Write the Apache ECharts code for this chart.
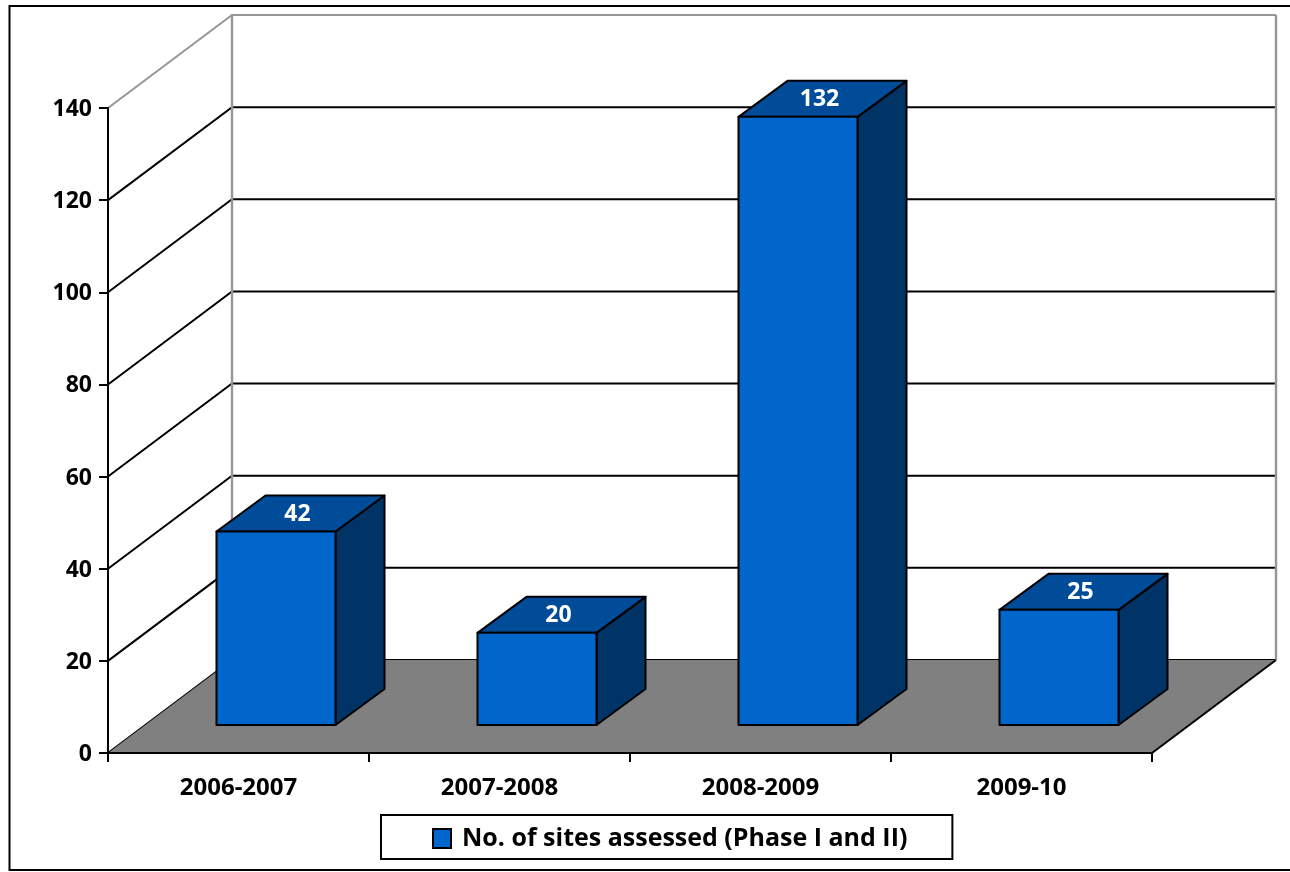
<!DOCTYPE html>
<html>
<head>
<meta charset="utf-8">
<style>html,body{margin:0;padding:0;background:#fff}#chart{width:1290px;height:872px}</style>
<script src="https://cdn.jsdelivr.net/npm/echarts@6/dist/echarts.min.js"></script>
</head>
<body>
<div id="chart"></div>
<script>
const categories = ['2006-2007', '2007-2008', '2008-2009', '2009-10'];
const sitesAssessed = [42, 20, 132, 25];
const valueTicks = [0, 20, 40, 60, 80, 100, 120, 140];
const seriesName = 'No. of sites assessed (Phase I and II)';

// Oblique projection used to fake depth on a flat cartesian grid
const wallDepth = { dx: 124, dy: 93 };
const barFront = { dx: 37.5, dy: 28 };
const barDepth = { dx: 49, dy: 36 };
const barWidthRatio = 0.456;

const colors = { front: '#0066CC', top: '#004C99', side: '#003366', floor: '#808080', wall: '#969696' };
const fontFamily = '"Open Sans", sans-serif';

const chart = echarts.init(document.getElementById('chart'), null, { renderer: 'canvas' });

function renderGridLine(params, api) {
  const box = params.coordSys;
  const value = api.value(1);
  const y = api.coord([0, value])[1];
  const isTop = value === valueTicks[valueTicks.length - 1];
  return {
    type: 'polyline',
    shape: { points: [
      [box.x, y],
      [box.x + wallDepth.dx, y - wallDepth.dy],
      [box.x + box.width + wallDepth.dx, y - wallDepth.dy]
    ] },
    style: { fill: null, stroke: isTop ? colors.wall : '#000', lineWidth: 2 }
  };
}

function renderFloorAndEdges(params, api) {
  const box = params.coordSys;
  const base = box.y + box.height;
  const backLeft = box.x + wallDepth.dx;
  const backRight = box.x + box.width + wallDepth.dx;
  const backBase = base - wallDepth.dy;
  const backTop = box.y - wallDepth.dy;
  const edge = { fill: null, stroke: colors.wall, lineWidth: 2.4 };
  return {
    type: 'group',
    children: [
      { type: 'line', shape: { x1: backLeft, y1: backTop, x2: backLeft, y2: backBase }, style: edge },
      { type: 'line', shape: { x1: backRight, y1: backTop, x2: backRight, y2: backBase }, style: edge },
      {
        type: 'polygon',
        shape: { points: [[box.x, base], [backLeft, backBase], [backRight, backBase], [box.x + box.width, base]] },
        style: { fill: colors.floor, stroke: null }
      },
      {
        type: 'line',
        shape: { x1: box.x + box.width, y1: base, x2: backRight, y2: backBase },
        style: { stroke: '#000', lineWidth: 2 }
      }
    ]
  };
}

function renderBar(params, api) {
  const value = api.value(1);
  const centre = api.coord([api.value(0), 0]);
  const topPoint = api.coord([api.value(0), value]);
  const width = api.size([1, 0])[0] * barWidthRatio;
  const left = centre[0] + barFront.dx - width / 2;
  const right = left + width;
  const bottom = centre[1] - barFront.dy;
  const top = topPoint[1] - barFront.dy;
  const d = barDepth;
  const outline = { stroke: '#000', lineWidth: 2, lineJoin: 'round' };
  return {
    type: 'group',
    children: [
      {
        type: 'polygon',
        shape: { points: [[right, top], [right + d.dx, top - d.dy], [right + d.dx, bottom - d.dy], [right, bottom]] },
        style: Object.assign({ fill: colors.side }, outline)
      },
      {
        type: 'polygon',
        shape: { points: [[left, top], [left + d.dx, top - d.dy], [right + d.dx, top - d.dy], [right, top]] },
        style: Object.assign({ fill: colors.top }, outline)
      },
      {
        type: 'polygon',
        shape: { points: [[left, top], [right, top], [right, bottom], [left, bottom]] },
        style: Object.assign({ fill: colors.front }, outline)
      },
      {
        type: 'text',
        style: {
          text: String(value),
          x: (left + right + d.dx) / 2 - 3,
          y: top - d.dy / 2 + 1,
          fill: '#fff',
          font: 'bold 23px ' + fontFamily,
          align: 'center',
          verticalAlign: 'middle'
        }
      }
    ]
  };
}

chart.setOption({
  animation: false,
  backgroundColor: '#fff',
  graphic: [{
    type: 'rect',
    silent: true,
    z: -1,
    shape: { x: 9.5, y: 6, width: 1300, height: 864 },
    style: { fill: null, stroke: '#000', lineWidth: 2 }
  }],
  grid: { left: 108, right: 138, top: 108, bottom: 119 },
  legend: {
    left: 381,
    top: 815,
    padding: [11, 45, 8, 51],
    backgroundColor: '#fff',
    borderColor: '#000',
    borderWidth: 2,
    borderRadius: 0,
    itemWidth: 18,
    itemHeight: 19,
    textStyle: { color: '#000', fontFamily: fontFamily, fontWeight: 'bold', fontSize: 25, padding: [0, 0, 0, 6] },
    data: [{
      name: seriesName,
      icon: 'rect',
      itemStyle: { color: colors.front, borderColor: '#000', borderWidth: 2 }
    }]
  },
  xAxis: {
    type: 'category',
    data: categories,
    z: 5,
    axisLine: { lineStyle: { color: '#000', width: 2 } },
    axisTick: { show: true, length: 9, alignWithLabel: false, lineStyle: { color: '#000', width: 2 } },
    axisLabel: { color: '#000', fontFamily: fontFamily, fontWeight: 'bold', fontSize: 24, margin: 23 },
    splitLine: { show: false }
  },
  yAxis: {
    type: 'value',
    min: 0,
    max: 140,
    interval: 20,
    z: 5,
    axisLine: { show: true, lineStyle: { color: '#000', width: 2 } },
    axisTick: { show: true, length: 9, lineStyle: { color: '#000', width: 2 } },
    axisLabel: { color: '#000', fontFamily: fontFamily, fontWeight: 'bold', fontSize: 23, margin: 16, verticalAlign: 'top', lineHeight: 3 },
    splitLine: { show: false }
  },
  series: [
    {
      name: 'gridlines',
      type: 'custom',
      z: 1,
      renderItem: renderGridLine,
      encode: { x: 0, y: 1 },
      data: valueTicks.map(v => [0, v]),
      silent: true
    },
    {
      name: 'floor',
      type: 'custom',
      z: 1,
      renderItem: renderFloorAndEdges,
      encode: { x: 0, y: 1 },
      data: [[0, 0]],
      silent: true
    },
    {
      name: seriesName,
      type: 'custom',
      z: 3,
      renderItem: renderBar,
      itemStyle: { color: colors.front },
      encode: { x: 0, y: 1 },
      data: sitesAssessed.map((v, i) => [i, v])
    }
  ]
});
</script>
</body>
</html>
